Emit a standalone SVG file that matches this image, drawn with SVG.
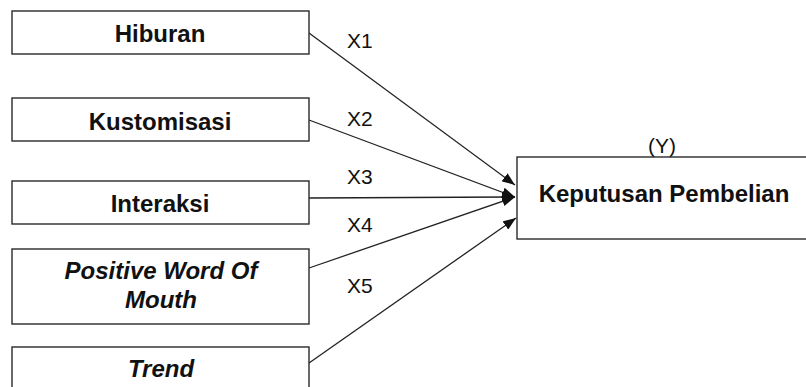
<svg xmlns="http://www.w3.org/2000/svg" width="806" height="387" viewBox="0 0 806 387">
  <style>
    .box { fill: #ffffff; stroke: #2a2a2a; stroke-width: 1.4; }
    .lbl { font-family: "Liberation Sans", Arial, sans-serif; font-weight: bold; font-size: 24px; fill: #111; text-anchor: middle; }
    .it { font-style: italic; }
    .x { font-family: "Liberation Sans", Arial, sans-serif; font-size: 21px; fill: #111; }
    .edge { stroke: #222; stroke-width: 1.3; fill: none; marker-end: url(#ah); }
  </style>
  <defs>
    <marker id="ah" markerUnits="userSpaceOnUse" markerWidth="14" markerHeight="10" refX="13" refY="5" orient="auto">
      <path d="M0,0 L13,5 L0,10 Z" fill="#111"/>
    </marker>
  </defs>
  <rect width="806" height="387" fill="#ffffff"/>
  <g id="connectors">
    <line class="edge" x1="309" y1="33" x2="515" y2="185"/>
    <line class="edge" x1="309" y1="120" x2="515" y2="197"/>
    <line class="edge" x1="309" y1="198" x2="515" y2="197"/>
    <line class="edge" x1="309" y1="268" x2="515" y2="197"/>
    <line class="edge" x1="309" y1="363" x2="516" y2="218"/>
    <text class="x" x="347" y="48">X1</text>
    <text class="x" x="347" y="126">X2</text>
    <text class="x" x="347" y="184">X3</text>
    <text class="x" x="347" y="232">X4</text>
    <text class="x" x="347" y="293">X5</text>
  </g>
  <g id="hiburan">
    <rect class="box" x="12" y="11" width="297" height="43"/>
    <text class="lbl" x="160" y="42">Hiburan</text>
  </g>
  <g id="kustomisasi">
    <rect class="box" x="12" y="98" width="297" height="43"/>
    <text class="lbl" x="160" y="130">Kustomisasi</text>
  </g>
  <g id="interaksi">
    <rect class="box" x="12" y="181" width="297" height="43"/>
    <text class="lbl" x="160" y="212">Interaksi</text>
  </g>
  <g id="pwom">
    <rect class="box" x="12" y="249" width="297" height="75"/>
    <text class="lbl it" x="161" y="279">Positive Word Of</text>
    <text class="lbl it" x="161" y="308">Mouth</text>
  </g>
  <g id="trend">
    <rect class="box" x="12" y="347" width="297" height="60"/>
    <text class="lbl it" x="161" y="377">Trend</text>
  </g>
  <g id="keputusan">
    <text class="x" x="662" y="153" text-anchor="middle">(Y)</text>
    <rect class="box" x="517" y="157" width="300" height="82"/>
    <text class="lbl" x="664" y="202">Keputusan Pembelian</text>
  </g>
</svg>
